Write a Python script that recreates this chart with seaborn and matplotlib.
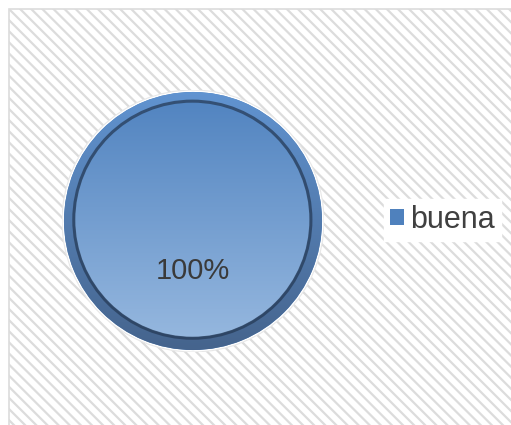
import numpy as np
import matplotlib
matplotlib.use("Agg")
import matplotlib.pyplot as plt
from matplotlib.patches import Rectangle, Circle
import seaborn as sns

# data
labels = ["buena"]
values = [100]

sns.set_style("white")
plt.rcParams["font.family"] = ["Liberation Sans", "DejaVu Sans"]
plt.rcParams["hatch.linewidth"] = 1.6

W, H = 511, 425
fig = plt.figure(figsize=(W / 100, H / 100), dpi=100)
fig.patch.set_facecolor("white")

# hatched chart area background
bg = Rectangle((9 / W, -0.05), 1.1, (H - 9) / H + 0.05, transform=fig.transFigure,
               facecolor="white", edgecolor="#dcdcdc", hatch="\\\\\\", linewidth=1.2,
               zorder=-10)
fig.patches.append(bg)

# pie axes: center (193, 221) px, radius 131 px
cx, cy, r = 193, 221, 131
ax = fig.add_axes([(cx - r) / W, (H - cy - r) / H, 2 * r / W, 2 * r / H])
ax.set_zorder(1)
ax.patch.set_visible(False)
ax.axis("off")

# white outer rim
ax.add_patch(Circle((0, 0), 1.0, facecolor="white", edgecolor="#e8e8e8", lw=0.8, zorder=1))

wedges, texts, autotexts = ax.pie(
    values, labels=None, colors=["#4f81bd"], startangle=90, radius=0.985,
    autopct="%1.0f%%", pctdistance=0.39,
    wedgeprops=dict(linewidth=0), textprops=dict(fontsize=21, color="#3a3a3a"))
for w in wedges:
    w.set_zorder(2)

# bevel ring, vertical gradient
yy = np.linspace(1, -1, 256)[:, None] * np.ones((1, 256))
t = (1 - yy) / 2
ring_top = np.array([0.38, 0.58, 0.82])
ring_bot = np.array([0.27, 0.39, 0.55])
ring = ring_top[None, None, :] * (1 - t[..., None]) + ring_bot[None, None, :] * t[..., None]
im = ax.imshow(ring, extent=(-1, 1, -1, 1), zorder=3, interpolation="bilinear")
im.set_clip_path(wedges[0])

# inner face gradient
face_top = np.array([0.31, 0.51, 0.75])
face_bot = np.array([0.60, 0.73, 0.88])
face = face_top[None, None, :] * (1 - t[..., None]) + face_bot[None, None, :] * t[..., None]
im2 = ax.imshow(face, extent=(-1, 1, -1, 1), zorder=4, interpolation="bilinear")
inner = Circle((-0.005, 0.01), 0.897, transform=ax.transData, facecolor="none", lw=0)
ax.add_patch(inner)
im2.set_clip_path(inner)
ax.add_patch(Circle((-0.005, 0.01), 0.905, facecolor="none", edgecolor="#263b57",
                    lw=2.2, alpha=0.75, zorder=5))
ax.set_xlim(-1, 1)
ax.set_ylim(-1, 1)
ax.set_aspect("equal")

for t_ in autotexts:
    t_.set_zorder(6)

leg = fig.legend(wedges, labels, loc="center left", bbox_to_anchor=(384 / W, 1 - 220 / H),
                 frameon=True, fancybox=False, framealpha=1, edgecolor="white",
                 fontsize=22, handlelength=0.45, handleheight=0.45, handletextpad=0.2,
                 borderpad=0.2, borderaxespad=0, labelcolor="#404040")
leg.get_frame().set_facecolor("white")
leg.set_zorder(5)

fig.savefig("out.png", dpi=100)
